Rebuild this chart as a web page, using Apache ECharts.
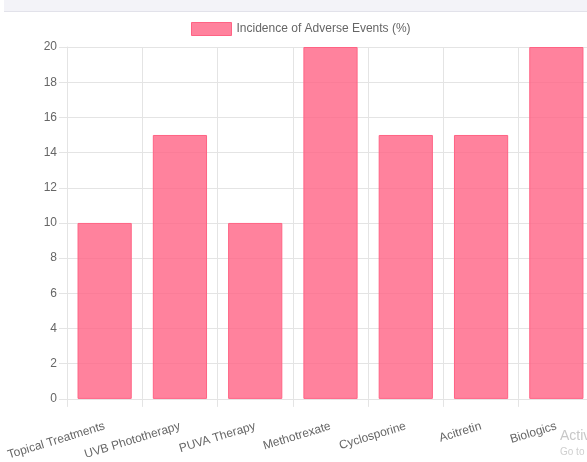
<!DOCTYPE html>
<html>
<head>
<meta charset="utf-8">
<script src="https://cdn.jsdelivr.net/npm/echarts@6/dist/echarts.min.js"></script>
<style>
  html, body { margin: 0; padding: 0; background: #fff; overflow: hidden; }
  #main { width: 600px; height: 462px; }
</style>
</head>
<body>
<div id="main"></div>
<script>
var categories = ['Topical Treatments', 'UVB Phototherapy', 'PUVA Therapy', 'Methotrexate', 'Cyclosporine', 'Acitretin', 'Biologics']
var incidence = [10, 15, 10, 20, 15, 15, 20]
var seriesName = 'Incidence of Adverse Events (%)'

var gridColor = '#e4e4e4'
var labelColor = '#666'
var font = 'Liberation Sans, Arial, Helvetica, sans-serif'

var myChart = echarts.init(document.getElementById('main'))

var option = {
    animation: false,
    textStyle: { fontFamily: font },
    graphic: [
        // page strip at the top of the screenshot
        { type: 'rect', shape: { x: 4, y: 0, width: 596, height: 11 }, style: { fill: '#f3f3f8' }, silent: true },
        { type: 'rect', shape: { x: 4, y: 11, width: 596, height: 1 }, style: { fill: '#e2e2ea' }, silent: true },
        { type: 'text', left: 560, top: 429, style: { text: 'Activ', fill: '#c8c8c8', font: '14px ' + font }, silent: true },
        { type: 'text', left: 560, top: 447, style: { text: 'Go to', fill: '#cfcfcf', font: '10px ' + font }, silent: true }
    ],
    legend: {
        data: [seriesName],
        left: 191,
        top: 22,
        padding: 0,
        icon: 'rect',
        itemWidth: 40,
        itemHeight: 13,
        textStyle: { color: labelColor, fontSize: 12, fontFamily: font },
        itemStyle: { color: 'rgba(255,99,132,0.8)', borderColor: 'rgb(255,99,132)', borderWidth: 1 }
    },
    grid: {
        left: 67,
        right: 6,
        top: 47,
        bottom: 63
    },
    xAxis: {
        type: 'category',
        data: categories,
        boundaryGap: true,
        axisLine: { show: true, lineStyle: { color: gridColor } },
        axisTick: { show: true, length: 8, lineStyle: { color: gridColor } },
        splitLine: { show: true, lineStyle: { color: gridColor } },
        axisLabel: {
            color: labelColor,
            fontSize: 12,
            rotate: 17,
            interval: 0,
            margin: 27
        }
    },
    yAxis: {
        type: 'value',
        min: 0,
        max: 20,
        interval: 2,
        axisLine: { show: true, lineStyle: { color: gridColor } },
        axisTick: { show: true, length: 8, lineStyle: { color: gridColor } },
        splitLine: { show: true, lineStyle: { color: gridColor } },
        axisLabel: { color: labelColor, fontSize: 12, margin: 10 }
    },
    series: [{
        name: seriesName,
        type: 'bar',
        data: incidence,
        barCategoryGap: '28%',
        itemStyle: {
            color: 'rgba(255,99,132,0.8)',
            borderColor: 'rgb(255,99,132)',
            borderWidth: 1
        }
    }]
}

myChart.setOption(option)
</script>
</body>
</html>
